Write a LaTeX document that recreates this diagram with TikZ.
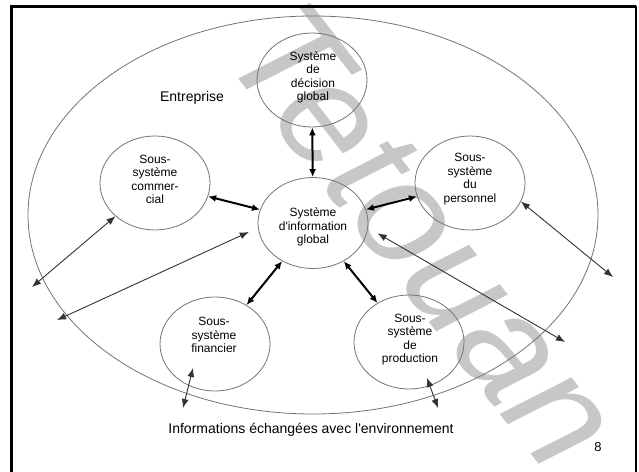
\documentclass[tikz,border=0pt]{standalone}
\usepackage{fontspec}
\setmainfont{Liberation Sans}
\usetikzlibrary{arrows.meta,shapes.geometric}
\newcommand{\arw}{{Latex[length=8pt,width=7pt]}-{Latex[length=8pt,width=7pt]}}
\newcommand{\tarw}{{Latex[length=9pt,width=7pt]}-{Latex[length=9pt,width=7pt]}}

\begin{document}
\begin{tikzpicture}[x=1pt,y=-1pt,
  sys/.style={draw=black!55,line width=0.8pt,ellipse,minimum width=110pt,minimum height=94pt,inner sep=0pt},
  txt/.style={align=center,font=\fontsize{12}{13.5}\selectfont},
  big/.style={font=\fontsize{14}{16}\selectfont},
  thk/.style={line width=2pt,\arw},
  thn/.style={draw=black!80,line width=0.9pt,\tarw}]
\useasboundingbox (0,0) rectangle (639,471);
%watermark
\node[rotate=-52,text=black!22,font=\fontsize{150}{150}\selectfont\itshape] (wm) at (425,235) {Tetouan};
%frame and enterprise
\draw[line width=3pt] (11,480) -- (11,6) -- (636,6);
\draw[line width=2pt] (636,6) -- (636,480);
\draw[draw=black!55,line width=0.8pt] (313,215) ellipse [x radius=285, y radius=199];
\node[big] (ent) at (192,98) {Entreprise};
%subsystems
\node[sys] (dec) at (312,80) {};
\node[sys] (com) at (155,183) {};
\node[sys] (pers) at (470,183) {};
\node[sys,minimum height=91pt] (info) at (313,223) {};
\node[sys] (fin) at (215,344) {};
\node[sys] (prod) at (409,342) {};
\node[txt] (dec-t) at (313,77.5) {Système\\de\\décision\\global};
\node[txt] (com-t) at (155,179.5) {Sous-\\système\\commer-\\cial};
\node[txt] (pers-t) at (470,179) {Sous-\\système\\du\\personnel};
\node[txt] (info-t) at (313,227) {Système\\d\textquotesingle information\\global};
\node[txt] (fin-t) at (214,335) {Sous-\\système\\financier};
\node[txt] (prod-t) at (410,339.5) {Sous-\\système\\de\\production};
%internal exchanges
\draw[thk] (dec) -- (info);
\draw[thk] (com) -- (info);
\draw[thk] (pers) -- (info);
\draw[thk] (fin) -- (info);
\draw[thk] (prod) -- (info);
%exchanges with the environment
\coordinate (comx) at (32,287);
\coordinate (infox1) at (57,320);
\coordinate (persx) at (613,277);
\coordinate (infox2) at (565,342);
\coordinate (finx) at (183,408);
\coordinate (prodx) at (438,408);
\draw[thn] (com.220) -- (comx);
\draw[thn,shorten <=10pt] (info.185) -- (infox1);
\draw[thn] (pers.-20) -- (persx);
\draw[thn,shorten <=11pt] (info.-5) -- (infox2);
\draw[thn] ([shift={(-22,24)}]fin.center) -- (finx);
\draw[thn] ([shift={(18,36)}]prod.center) -- (prodx);
\node[big] (env) at (311,430) {Informations échangées avec l\textquotesingle environnement};
\node[font=\fontsize{13}{15}\selectfont] (page) at (598,447) {8};
\end{tikzpicture}
\end{document}
